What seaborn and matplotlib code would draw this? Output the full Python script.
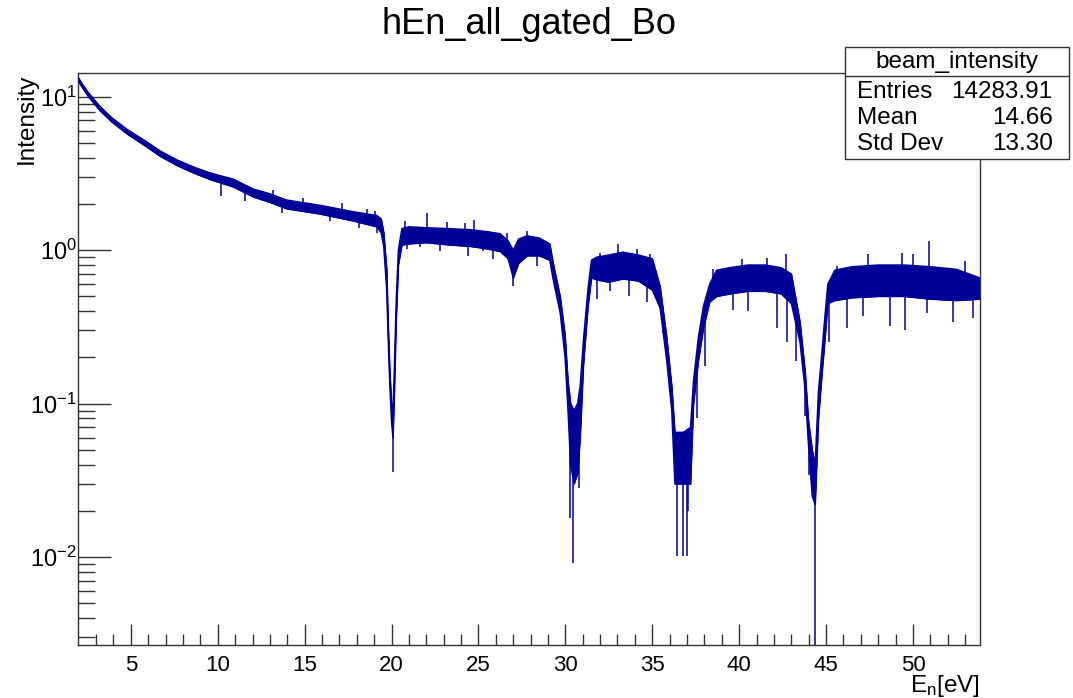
import numpy as np
import matplotlib
matplotlib.use("Agg")
import matplotlib.pyplot as plt
from matplotlib.patches import Rectangle
from matplotlib.lines import Line2D
from matplotlib.ticker import FixedLocator, LogLocator, NullFormatter
import seaborn as sns

# ---------------- data ----------------
energy = [1.96, 2.2, 2.56, 3.2, 3.9, 4.8, 5.8, 6.7, 7.7, 8.7, 9.63, 10.9,
          12.05, 13.0, 13.97, 15.9, 17.8, 19.15, 19.4,
          19.55, 19.72, 19.8, 19.9, 20.0, 20.08, 20.16, 20.26, 20.39, 20.59,
          21.0, 22.0, 23.4, 24.5, 25.5, 26.25, 26.7, 27.0, 27.3, 27.8, 28.5,
          29.1, 29.3, 29.7, 29.98, 30.15, 30.3, 30.5, 30.7, 30.85, 31.04,
          31.3, 31.5, 31.8, 32.5, 33.3, 34.2, 35.0, 35.45, 35.83, 36.12,
          36.3, 36.8, 37.2, 37.37, 37.65, 37.94, 38.3, 38.7, 39.5, 40.5,
          41.5, 42.4, 43.0, 43.5, 43.8, 43.98, 44.2, 44.37, 44.56, 44.75,
          44.94, 45.1, 45.5, 46.5, 48.0, 49.5, 51.0, 52.5, 53.84]
band_low = [12.7, 11.5, 10.0, 8.15, 6.85, 5.7, 4.8, 4.08, 3.54, 3.15, 2.87, 2.58,
            2.22, 2.05, 1.86, 1.72, 1.55, 1.42, 1.3,
            1.05, 0.55, 0.27, 0.13, 0.075, 0.06, 0.12, 0.34, 0.8, 1.08,
            1.1, 1.12, 1.08, 1.06, 1.02, 0.98, 0.88, 0.66, 0.82, 0.92, 0.92,
            0.86, 0.64, 0.39, 0.2, 0.09, 0.04, 0.03, 0.035, 0.06, 0.18,
            0.43, 0.66, 0.64, 0.62, 0.65, 0.63, 0.55, 0.42, 0.19, 0.09,
            0.03, 0.03, 0.03, 0.1, 0.19, 0.31, 0.46, 0.5, 0.52, 0.54,
            0.54, 0.52, 0.45, 0.25, 0.12, 0.055, 0.025, 0.022, 0.08, 0.15,
            0.27, 0.45, 0.47, 0.49, 0.5, 0.5, 0.48, 0.47, 0.48]
band_high = [13.4, 12.1, 10.6, 8.7, 7.3, 6.1, 5.18, 4.42, 3.85, 3.45, 3.17, 2.9,
             2.5, 2.33, 2.12, 1.96, 1.78, 1.68, 1.6,
             1.3, 0.75, 0.34, 0.16, 0.1, 0.09, 0.17, 0.45, 1.0, 1.38,
             1.42, 1.4, 1.38, 1.36, 1.32, 1.28, 1.15, 1.0, 1.18, 1.24, 1.2,
             1.1, 0.82, 0.5, 0.28, 0.14, 0.1, 0.09, 0.1, 0.13, 0.26,
             0.56, 0.86, 0.9, 0.93, 0.97, 0.93, 0.88, 0.58, 0.27, 0.13,
             0.065, 0.065, 0.07, 0.14, 0.27, 0.43, 0.6, 0.74, 0.77, 0.8,
             0.8, 0.77, 0.7, 0.34, 0.16, 0.078, 0.05, 0.04, 0.12, 0.21,
             0.38, 0.6, 0.74, 0.78, 0.8, 0.8, 0.78, 0.75, 0.66]

# individual spikes (energy, tip value)
spike_e = [20.1, 30.27, 30.45, 30.8, 36.4, 36.75, 36.98, 37.06, 44.0, 44.37,
           10.2, 11.57, 13.68, 16.47, 18.1, 19.15,
           10.7, 13.2, 14.93, 17.14, 18.57, 19.05,
           20.78, 22.03, 23.18, 24.23, 24.75, 26.63, 27.78, 28.55,
           20.87, 21.64, 22.79, 24.42, 25.28, 25.86, 27.0, 28.35,
           32.0, 33.05, 34.1, 34.87, 38.5, 40.15, 41.59, 42.7,
           31.8, 32.57, 33.68, 34.68, 35.64, 37.56, 38.04, 39.67, 40.53,
           42.16, 42.77, 43.27, 43.78,
           45.62, 47.43, 49.35, 50.02, 50.93, 53.0,
           45.15, 46.19, 47.15, 48.68, 49.55, 50.8, 52.33, 53.44]
spike_v = [0.036, 0.018, 0.0092, 0.028, 0.0101, 0.0101, 0.0101, 0.02, 0.034, 0.001,
           2.24, 2.08, 1.75, 1.54, 1.4, 1.3,
           2.95, 2.48, 2.19, 2.03, 1.84, 1.79,
           1.54, 1.75, 1.52, 1.5, 1.58, 1.3, 1.33, 1.2,
           1.01, 1.04, 0.99, 0.91, 0.99, 0.87, 0.58, 0.79,
           0.96, 1.09, 1.01, 0.94, 0.75, 0.87, 0.89, 0.94,
           0.48, 0.54, 0.5, 0.46, 0.29, 0.08, 0.177, 0.41, 0.4,
           0.31, 0.25, 0.19, 0.083,
           0.79, 0.94, 0.96, 0.94, 1.14, 0.85,
           0.25, 0.31, 0.37, 0.32, 0.3, 0.39, 0.34, 0.36]

title = "hEn_all_gated_Bo"
stats_name = "beam_intensity"
stats_rows = [("Entries", "14283.91"), ("Mean", "14.66"), ("Std Dev", "13.30")]
x_ticks = [5, 10, 15, 20, 25, 30, 35, 40, 45, 50]
y_ticks = [0.01, 0.1, 1, 10]
y_labels = [r"$\mathregular{10^{-2}}$", r"$\mathregular{10^{-1}}$",
            r"$\mathregular{10^{0}}$", r"$\mathregular{10^{1}}$"]

# ---------------- style ----------------
sns.set_style("ticks")
plt.rcParams["font.family"] = ["Liberation Sans", "DejaVu Sans"]
plt.rcParams["mathtext.fontset"] = "custom"
plt.rcParams["mathtext.rm"] = "Liberation Sans"
plt.rcParams["text.color"] = "black"
plt.rcParams["xtick.labelcolor"] = "black"
plt.rcParams["ytick.labelcolor"] = "black"

W, H = 1073, 698
blue = "#000099"
frame = "#333333"

fig = plt.figure(figsize=(W / 100, H / 100), dpi=100)
x0, x1, yt, yb = 78, 979.7, 73.3, 645
ax = fig.add_axes([x0 / W, 1 - yb / H, (x1 - x0) / W, (yb - yt) / H])

e = np.array(energy)
lo = np.array(band_low)
hi = np.array(band_high)

ax.fill_between(e, lo, hi, color=blue, lw=0.6, edgecolor=blue, zorder=2)
sns.lineplot(x=e, y=lo, ax=ax, color=blue, lw=1.0, zorder=3)
sns.lineplot(x=e, y=hi, ax=ax, color=blue, lw=1.0, zorder=3)

mid = np.sqrt(lo * hi)
for se, sv in zip(spike_e, spike_v):
    base = np.exp(np.interp(se, e, np.log(mid)))
    ax.vlines(se, min(sv, base), max(sv, base), color=blue, lw=1.1, zorder=3)

ax.set_yscale("log")
ax.set_xlim(1.96, 53.84)
ax.set_ylim(0.00267, 14.2)

ax.xaxis.set_major_locator(FixedLocator(x_ticks))
ax.xaxis.set_minor_locator(FixedLocator(list(range(3, 54))))
ax.set_xticklabels([str(t) for t in x_ticks])
ax.yaxis.set_major_locator(FixedLocator(y_ticks))
ax.yaxis.set_minor_locator(LogLocator(base=10, subs=np.arange(2, 10)))
ax.yaxis.set_minor_formatter(NullFormatter())
ax.set_yticklabels(y_labels)

ax.tick_params(axis="y", which="major", direction="in", length=23.8, width=1.0,
               color=frame, labelsize=17, pad=1, right=False)
ax.tick_params(axis="y", which="minor", direction="in", length=12.2, width=1.0,
               color=frame, right=False)
ax.tick_params(axis="x", which="major", direction="in", length=15.1, width=1.0,
               color=frame, labelsize=16, pad=7, top=False)
ax.tick_params(axis="x", which="minor", direction="in", length=7.7, width=1.0,
               color=frame, top=False)
for s in ax.spines.values():
    s.set_color(frame)
    s.set_linewidth(1.0)
ax.set_xlabel("")
ax.set_ylabel("")

fig.text(529 / W, 1 - 33.5 / H, title, ha="center", va="baseline", fontsize=26)
fig.text(26.7 / W, 1 - yt / H, "Intensity", rotation=90, ha="center", va="top",
         fontsize=17.5)
fig.text(x1 / W, 1 - 692 / H, r"$\mathregular{E_{n}[eV]}$", ha="right",
         va="baseline", fontsize=17.5)

# stats box
bx0, bx1, by0, by1, bsep = 845, 1069.3, 46.7, 159.3, 76
fig.patches.append(Rectangle((bx0 / W, 1 - by1 / H), (bx1 - bx0) / W, (by1 - by0) / H,
                             transform=fig.transFigure, facecolor="white",
                             edgecolor=frame, lw=1.0, zorder=10))
fig.lines.append(Line2D([bx0 / W, bx1 / W], [1 - bsep / H, 1 - bsep / H],
                        transform=fig.transFigure, color=frame, lw=1.0, zorder=11))
fig.text((bx0 + bx1) / 2 / W, 1 - 61.7 / H, stats_name, ha="center", va="center",
         fontsize=17.5, zorder=12)
for (lab, val), yy in zip(stats_rows, [91.7, 118.3, 144.3]):
    fig.text(857.3 / W, 1 - yy / H, lab, ha="left", va="center", fontsize=17.5, zorder=12)
    fig.text(1052.7 / W, 1 - yy / H, val, ha="right", va="center", fontsize=17.5, zorder=12)

fig.savefig("out.png", dpi=100)
